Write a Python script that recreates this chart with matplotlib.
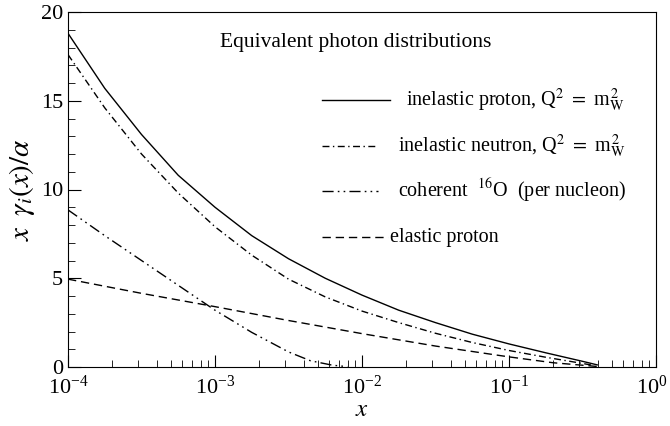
import numpy as np
import matplotlib
matplotlib.use('Agg')
import matplotlib.pyplot as plt
from matplotlib.ticker import LogLocator, LogFormatterMathtext, MultipleLocator, NullFormatter
from matplotlib.transforms import ScaledTranslation

plt.rcParams['font.family'] = 'Liberation Serif'
plt.rcParams['mathtext.fontset'] = 'stix'

# values (log10 x, x*gamma(x)/alpha)
logx_proton = [-4.0, -3.75, -3.5, -3.25, -3.0, -2.75, -2.5, -2.25, -2.0, -1.75,
               -1.5, -1.25, -1.0, -0.75, -0.5, -0.4]
y_proton = [18.8, 15.7, 13.1, 10.8, 9.0, 7.4, 6.1, 5.0, 4.05, 3.2,
            2.5, 1.85, 1.3, 0.8, 0.32, 0.12]

logx_neutron = [-4.0, -3.75, -3.5, -3.25, -3.0, -2.75, -2.5, -2.25, -2.0, -1.75,
                -1.5, -1.25, -1.0, -0.75, -0.5, -0.42]
y_neutron = [17.6, 14.6, 12.0, 9.8, 7.9, 6.3, 4.95, 3.95, 3.15, 2.5,
             1.9, 1.38, 0.93, 0.55, 0.2, 0.08]

logx_oxygen = [-4.0, -3.75, -3.5, -3.25, -3.0, -2.75, -2.5, -2.35, -2.2, -2.1]
y_oxygen = [8.85, 7.4, 6.0, 4.6, 3.2, 1.95, 0.85, 0.35, 0.1, 0.02]

logx_elastic = [-4.0, -3.5, -3.0, -2.5, -2.0, -1.5, -1.0, -0.7, -0.4]
y_elastic = [4.95, 4.15, 3.4, 2.62, 1.88, 1.18, 0.57, 0.24, 0.03]

labels = [r'inelastic proton, Q$^2$ $=$ m$_{\rm W}^{\,2}$',
          r'inelastic neutron, Q$^2$ $=$ m$_{\rm W}^{\,2}$',
          r'coherent  $^{16}$O  (per nucleon)',
          'elastic proton']

styles = ['-', (0, (5, 2.5, 1, 2.5)), (0, (8, 3, 1.2, 3, 1.2, 3)), (0, (6, 3.5))]

fig = plt.figure(figsize=(6.7, 4.26), dpi=100)
ax = fig.add_axes([68/670, 1-367/426, 588/670, 355/426])

series = [(logx_proton, y_proton), (logx_neutron, y_neutron),
          (logx_oxygen, y_oxygen), (logx_elastic, y_elastic)]
for (lx, yy), ls in zip(series, styles):
  ax.plot(10**np.array(lx), yy, color='black', lw=1.0, linestyle=ls)

ax.set_xscale('log')
ax.set_xlim(1e-4, 1)
ax.set_ylim(0, 20)
ax.xaxis.set_major_locator(LogLocator(base=10, numticks=10))
ax.xaxis.set_minor_locator(LogLocator(base=10, subs=np.arange(2, 10), numticks=10))
ax.xaxis.set_major_formatter(LogFormatterMathtext())
ax.xaxis.set_minor_formatter(NullFormatter())
ax.yaxis.set_major_locator(MultipleLocator(5))
ax.yaxis.set_minor_locator(MultipleLocator(1))
ax.tick_params(which='both', direction='in', top=False, right=False, labelsize=16)
ax.tick_params(axis='x', pad=6)
ax.tick_params(which='major', length=9)
ax.tick_params(which='minor', length=5)

ax.set_xlabel(r'$x$', fontsize=18, labelpad=0)
ax.set_ylabel(r'$x\;\;\gamma_i(x)/\alpha$', fontsize=21, labelpad=3)

# legend drawn by hand, like the original
ax.text((220-68)/588, 0.915, 'Equivalent photon distributions', transform=ax.transAxes,
        ha='left', va='center', fontsize=15.5)
rows = [0.752, 0.623, 0.496, 0.366]
sample_end = [0.548, 0.527, 0.527, 0.545]
text_x = [0.575, 0.561, 0.561, 0.548]
for i in range(4):
  ax.plot([0.432, sample_end[i]], [rows[i], rows[i]], transform=ax.transAxes,
          color='black', lw=1.0, linestyle=styles[i])
  ax.text(text_x[i], rows[i], labels[i], transform=ax.transAxes,
          ha='left', va='center', fontsize=14.5)

# nudge the 10^0 label so it stays inside the picture
fig.canvas.draw()
for lab in ax.get_xticklabels():
  if lab.get_position()[0] >= 0.99:
    lab.set_transform(lab.get_transform() + ScaledTranslation(-3/72, 0, fig.dpi_scale_trans))

fig.savefig('out.png', dpi=100)
